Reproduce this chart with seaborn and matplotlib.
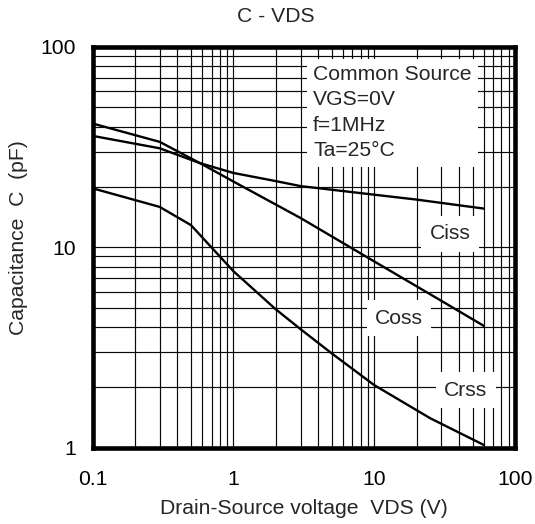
import numpy as np
import pandas as pd
import matplotlib
matplotlib.use("Agg")
import matplotlib.pyplot as plt
from matplotlib.ticker import LogLocator, FixedLocator, FixedFormatter, NullFormatter
import seaborn as sns

CISS_VDS = [0.1, 0.3, 0.58, 1, 2, 3, 10, 20, 60]
CISS_C   = [36.0, 31.2, 26.3, 23.5, 21.4, 20.2, 18.3, 17.3, 15.6]
COSS_VDS = [0.1, 0.3, 0.58, 1, 3, 10, 30, 60]
COSS_C   = [41.5, 33.6, 26.3, 21.3, 14.0, 8.5, 5.4, 4.05]
CRSS_VDS = [0.1, 0.3, 0.5, 1, 2, 3, 5, 10, 25, 60]
CRSS_C   = [19.7, 15.9, 12.9, 7.6, 4.9, 3.9, 2.95, 2.05, 1.4, 1.03]

CURVES = ["Ciss", "Coss", "Crss"]
X_TICKS = [0.1, 1, 10, 100]
X_TICK_LABELS = ["0.1", "1", "10", "100"]
Y_TICKS = [1, 10, 100]
Y_TICK_LABELS = ["1", "10", "100"]
CONDITIONS = ["Common Source", "VGS=0V", "f=1MHz", "Ta=25°C"]

# label anchor points (data coords)
LABEL_POS = {"Ciss": (34.5, 11.7), "Coss": (15.0, 4.42), "Crss": (44.8, 1.93)}

df = pd.concat([
    pd.DataFrame({"vds": CISS_VDS, "cap": CISS_C, "curve": "Ciss"}),
    pd.DataFrame({"vds": COSS_VDS, "cap": COSS_C, "curve": "Coss"}),
    pd.DataFrame({"vds": CRSS_VDS, "cap": CRSS_C, "curve": "Crss"}),
], ignore_index=True)

sns.set_style("white")
plt.rcParams["font.family"] = ["Liberation Sans", "DejaVu Sans"]
FS = 15.2

fig = plt.figure(figsize=(5.35, 5.24), dpi=100)
ax = fig.add_axes([92.5/535, 1 - 447.5/524, (515 - 92.5)/535, (447.5 - 47)/524])
ax.set_xscale("log")
ax.set_yscale("log")

sns.lineplot(data=df, x="vds", y="cap", hue="curve", estimator=None,
             palette={c: "black" for c in CURVES}, linewidth=1.7,
             legend=False, ax=ax, zorder=4)

ax.set_xlim(0.1, 100)
ax.set_ylim(1, 100)

# datasheet style grid
ax.xaxis.set_major_locator(FixedLocator(X_TICKS))
ax.xaxis.set_major_formatter(FixedFormatter(X_TICK_LABELS))
ax.yaxis.set_major_locator(FixedLocator(Y_TICKS))
ax.yaxis.set_major_formatter(FixedFormatter(Y_TICK_LABELS))
ax.xaxis.set_minor_locator(LogLocator(base=10, subs=range(2, 10)))
ax.yaxis.set_minor_locator(LogLocator(base=10, subs=range(2, 10)))
ax.xaxis.set_minor_formatter(NullFormatter())
ax.yaxis.set_minor_formatter(NullFormatter())
ax.grid(True, which="both", color="#0a0a0a", linewidth=0.85)
ax.set_axisbelow(True)
ax.tick_params(which="both", length=0, labelsize=FS, colors="black")
ax.tick_params(axis="x", pad=16)
ax.tick_params(axis="y", pad=12)

for s in ax.spines.values():
    s.set_visible(True)
    s.set_linewidth(3.3)
    s.set_color("black")
    s.set_zorder(6)

ax.set_title("C - VDS", fontsize=FS, x=0.435, pad=18)
ax.set_xlabel("Drain-Source voltage  VDS (V)", fontsize=FS)
ax.set_ylabel("Capacitance  C  (pF)", fontsize=FS)
ax.xaxis.set_label_coords(0.5, -0.128)
ax.yaxis.set_label_coords(-0.152, 0.525)

for name in CURVES:
    x, y = LABEL_POS[name]
    ax.text(x, y, name, fontsize=FS, ha="center", va="center", zorder=3,
            bbox=dict(boxstyle="square,pad=0.4", fc="white", ec="none"))

ax.text(0.522, 0.955, "\n".join(CONDITIONS), transform=ax.transAxes,
        fontsize=FS, ha="left", va="top", linespacing=1.43, zorder=3,
        bbox=dict(boxstyle="square,pad=0.3", fc="white", ec="none"))

plt.savefig("out.png", dpi=100)
plt.close()
